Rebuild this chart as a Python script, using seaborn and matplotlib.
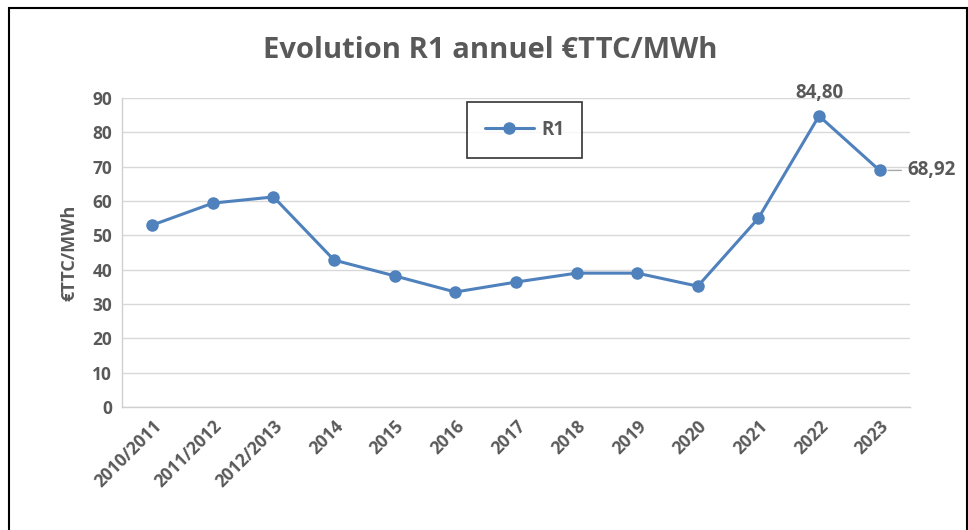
import matplotlib
matplotlib.use("Agg")
import matplotlib.pyplot as plt
import seaborn as sns
import pandas as pd
from matplotlib.patches import Rectangle

years = ["2010/2011", "2011/2012", "2012/2013", "2014", "2015", "2016", "2017",
         "2018", "2019", "2020", "2021", "2022", "2023"]
r1_values = [53.0, 59.4, 61.2, 42.8, 38.2, 33.5, 36.4, 39.0, 39.0, 35.2, 55.0, 84.80, 68.92]
y_ticks = [0, 10, 20, 30, 40, 50, 60, 70, 80, 90]

df = pd.DataFrame({"annee": years, "R1": r1_values})
df["pos"] = range(len(df))

sns.set_theme(style="white")
plt.rcParams["font.family"] = ["Open Sans", "DejaVu Sans"]

grey = "#595959"
blue = "#4f81bd"

fig = plt.figure(figsize=(9.68, 5.30), dpi=100)
ax = fig.add_axes([0.126, 0.232, 0.814, 0.583])

sns.lineplot(data=df, x="pos", y="R1", ax=ax, color=blue, linewidth=2.2,
             marker="o", markersize=9, markeredgewidth=0, label="R1")

ax.set_xlim(-0.5, len(years) - 0.5)
ax.set_ylim(0, 90)
ax.set_yticks(y_ticks)
ax.set_xticks(df["pos"])
ax.set_xticklabels(years, rotation=45, ha="right", rotation_mode="anchor")
ax.tick_params(axis="both", colors=grey, labelsize=12.5, length=0, pad=7)
for lab in ax.get_xticklabels() + ax.get_yticklabels():
    lab.set_fontweight("bold")
ax.grid(axis="y", color="#d9d9d9", linewidth=1)
ax.set_axisbelow(True)
for side in ["top", "right"]:
    ax.spines[side].set_visible(False)
for side in ["left", "bottom"]:
    ax.spines[side].set_color("#d0d0d0")
    ax.spines[side].set_linewidth(1)

ax.set_xlabel("")
ax.set_ylabel("€TTC/MWh", color=grey, fontsize=13, fontweight="bold", labelpad=10)

# data labels for the last two points
i22 = years.index("2022")
ax.annotate("84,80", (i22, r1_values[i22]), xytext=(0, 9), textcoords="offset points",
            ha="center", va="bottom", color=grey, fontsize=13.5, fontweight="bold")
i23 = years.index("2023")
ax.annotate("68,92", (i23, r1_values[i23]), xytext=(20, 0), textcoords="offset points",
            ha="left", va="center", color=grey, fontsize=13.5, fontweight="bold",
            arrowprops=dict(arrowstyle="-", color="#a6a6a6", lw=1, shrinkA=2, shrinkB=6),
            annotation_clip=False)

leg = ax.legend(loc="center", bbox_to_anchor=(0.542, 0.755), bbox_transform=fig.transFigure,
                frameon=True, fancybox=False, fontsize=13.5, borderpad=0.95,
                handlelength=2.6, handletextpad=0.4, borderaxespad=0)
leg.get_frame().set_edgecolor("black")
leg.get_frame().set_linewidth(1.2)
for t in leg.get_texts():
    t.set_color(grey)
    t.set_fontweight("bold")

fig.text(0.506, 0.905, "Evolution R1 annuel €TTC/MWh", ha="center", va="center",
         color=grey, fontsize=21, fontweight="bold")

# outer frame
fig.patches.append(Rectangle((0.009, -0.01), 0.99, 0.995, transform=fig.transFigure,
                             fill=False, edgecolor="black", linewidth=1.5))

fig.savefig("out.png", dpi=100)
